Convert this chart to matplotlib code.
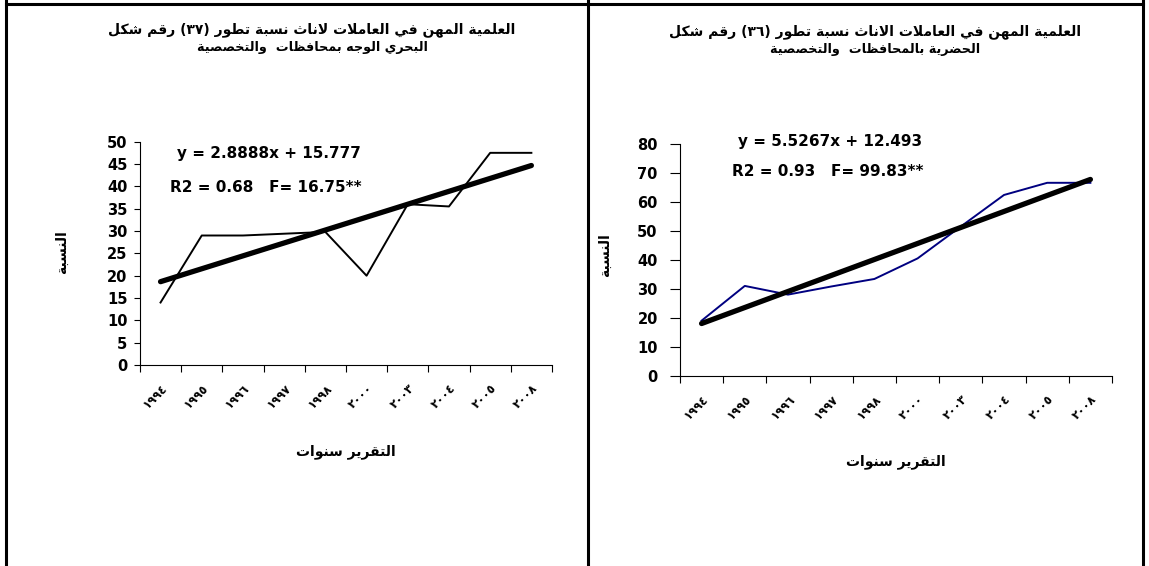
import matplotlib
matplotlib.use('Agg')
import matplotlib.pyplot as plt
from matplotlib.lines import Line2D
import numpy as np

# report years (Eastern Arabic digits as in the source)
years = ['١٩٩٤', '١٩٩٥', '١٩٩٦', '١٩٩٧', '١٩٩٨', '٢٠٠٠', '٢٠٠٣', '٢٠٠٤', '٢٠٠٥', '٢٠٠٨']

# share of women in scientific and specialised jobs (%)
delta_share = [14, 29, 29, 29.4, 29.8, 20, 36, 35.5, 47.5, 47.5]
urban_share = [19, 31, 28, 30.8, 33.4, 40.5, 51.5, 62.4, 66.6, 66.6]

# trend line equations shown on the charts
delta_slope, delta_intercept = 2.8888, 15.777
urban_slope, urban_intercept = 5.5267, 12.493

delta_title = ['شكل رقم (٣٧) تطور نسبة لاناث العاملات في المهن العلمية',
               'والتخصصية  بمحافظات الوجه البحري']
urban_title = ['شكل رقم (٣٦) تطور نسبة الاناث العاملات في المهن العلمية',
               'والتخصصية  بالمحافظات الحضرية']
x_label = 'سنوات التقرير'
y_label = 'النسبة'

# minimal arabic shaping (matplotlib draws glyphs left to right, unshaped)
DUAL = {'ب': 0xFE8F, 'ت': 0xFE95, 'ث': 0xFE99, 'ج': 0xFE9D, 'ح': 0xFEA1,
        'خ': 0xFEA5, 'س': 0xFEB1, 'ش': 0xFEB5, 'ص': 0xFEB9, 'ض': 0xFEBD,
        'ط': 0xFEC1, 'ظ': 0xFEC5, 'ع': 0xFEC9, 'غ': 0xFECD, 'ف': 0xFED1,
        'ق': 0xFED5, 'ك': 0xFED9, 'ل': 0xFEDD, 'م': 0xFEE1, 'ن': 0xFEE5,
        'ه': 0xFEE9, 'ي': 0xFEF1}
RIGHT = {'ا': 0xFE8D, 'أ': 0xFE83, 'إ': 0xFE87, 'آ': 0xFE81, 'ة': 0xFE93,
         'د': 0xFEA9, 'ذ': 0xFEAB, 'ر': 0xFEAD, 'ز': 0xFEAF, 'و': 0xFEED,
         'ى': 0xFEEF, 'LA': 0xFEFB}


def shape_word(word):
    tokens = []
    i = 0
    while i < len(word):
        if word[i] == 'ل' and i + 1 < len(word) and word[i + 1] == 'ا':
            tokens.append('LA')
            i += 2
        else:
            tokens.append(word[i])
            i += 1
    out = []
    for k, t in enumerate(tokens):
        if t in DUAL:
            base, can_next = DUAL[t], True
        elif t in RIGHT:
            base, can_next = RIGHT[t], False
        else:
            out.append(t)
            continue
        prev = tokens[k - 1] if k > 0 else None
        nxt = tokens[k + 1] if k + 1 < len(tokens) else None
        jp = prev in DUAL
        jn = can_next and (nxt in DUAL or nxt in RIGHT)
        if jp and jn:
            g = base + 3
        elif jp:
            g = base + 1
        elif jn:
            g = base + 2
        else:
            g = base
        out.append(chr(g))
    return ''.join(reversed(out))


def ar(text):
    # words stay in their typed order, as in the source picture
    words = []
    for w in text.split(' '):
        if any('\u0621' <= c <= '\u064a' for c in w):
            words.append(shape_word(w))
        else:
            words.append(w)
    return ' '.join(words)


FONT = ['DejaVu Sans']


def draw_panel(ax, values, color, slope, intercept, ymax, ystep, eq, stats,
               eq_pos, stats_pos, ytick_pad, ytick_len):
    x = np.arange(len(values))
    ax.plot(x, values, color=color, linewidth=1.4)
    trend = [slope * (i + 1) + intercept for i in (x[0], x[-1])]
    ax.plot([x[0], x[-1]], trend, color='black', linewidth=3.8,
            solid_capstyle='round')

    ax.set_xlim(-0.5, len(values) - 0.5)
    ax.set_ylim(0, ymax)
    ax.set_yticks(np.arange(0, ymax + 1, ystep))
    ax.set_xticks(x)
    ax.set_xticks(np.arange(-0.5, len(values)), minor=True)
    ax.set_xticklabels(years, rotation=45, ha='right', rotation_mode='anchor',
                       family=FONT, fontsize=8.5, fontweight='bold')
    ax.tick_params(axis='x', which='major', length=0, pad=12)
    ax.tick_params(axis='x', which='minor', length=5, width=0.8)
    ax.tick_params(axis='y', length=ytick_len, width=0.8, pad=ytick_pad)
    for lbl in ax.get_yticklabels():
        lbl.set_family(FONT)
        lbl.set_fontweight('bold')
        lbl.set_fontsize(10.5)
    for s in ('top', 'right'):
        ax.spines[s].set_visible(False)
    for s in ('left', 'bottom'):
        ax.spines[s].set_linewidth(0.8)

    ax.text(eq_pos[0], eq_pos[1], eq, transform=ax.transAxes, family=FONT,
            fontsize=11, fontweight='bold', va='center', ha='left')
    ax.text(stats_pos[0], stats_pos[1], stats, transform=ax.transAxes,
            family=FONT, fontsize=11, fontweight='bold', va='center',
            ha='left')


fig = plt.figure(figsize=(11.49, 5.66), dpi=100)

ax1 = fig.add_axes([0.1218, 0.355, 0.3586, 0.3947])
draw_panel(ax1, delta_share, 'black', delta_slope, delta_intercept, 50, 5,
           'y = 2.8888x + 15.777', 'R2 = 0.68   F= 16.75**',
           (0.09, 0.945), (0.073, 0.797), 5, 4)

ax2 = fig.add_axes([0.5918, 0.3362, 0.376, 0.4094])
draw_panel(ax2, urban_share, '#000080', urban_slope, urban_intercept, 80, 10,
           'y = 5.5267x + 12.493', 'R2 = 0.93   F= 99.83**',
           (0.134, 1.01), (0.12, 0.88), 9, 7)

# titles and axis labels
for xc, lines, yl in ((312, delta_title, 30), (875, urban_title, 32)):
    fig.text(xc / 1149, 1 - yl / 566, ar(lines[0]), family=FONT,
             fontsize=10, fontweight='bold', ha='center', va='center')
    fig.text(xc / 1149, 1 - (yl + 17) / 566, ar(lines[1]), family=FONT,
             fontsize=9.2, fontweight='bold', ha='center', va='center')

fig.text(346 / 1149, 1 - 452 / 566, ar(x_label), family=FONT, fontsize=10,
         fontweight='bold', ha='center', va='center')
fig.text(896 / 1149, 1 - 462 / 566, ar(x_label), family=FONT, fontsize=10,
         fontweight='bold', ha='center', va='center')
fig.text(62 / 1149, 1 - 252 / 566, ar(y_label), family=FONT, fontsize=10,
         fontweight='bold', ha='center', va='center', rotation=90)
fig.text(605 / 1149, 1 - 255 / 566, ar(y_label), family=FONT, fontsize=10,
         fontweight='bold', ha='center', va='center', rotation=90)

# table borders around the two charts
for xs, ys in (([6, 6], [0, 566]), ([588, 588], [0, 566]),
               ([1143, 1143], [0, 566]), ([6, 1143], [4, 4])):
    fig.add_artist(Line2D([v / 1149 for v in xs], [1 - v / 566 for v in ys],
                          color='black', linewidth=2.2))

fig.savefig('out.png', dpi=100)
